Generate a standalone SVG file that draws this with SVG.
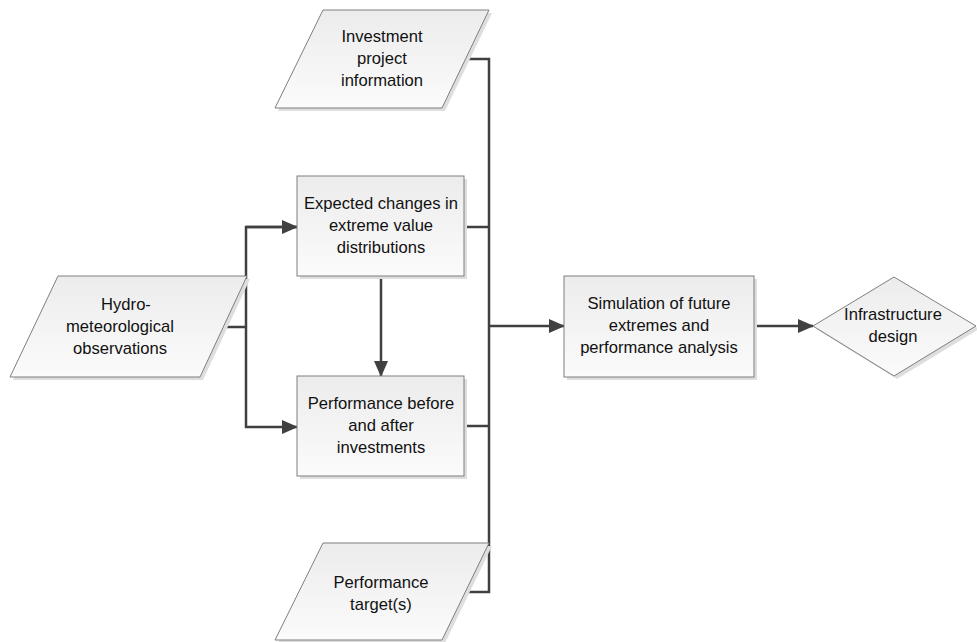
<svg xmlns="http://www.w3.org/2000/svg" width="977" height="642" viewBox="0 0 977 642">
<defs>
<linearGradient id="g" x1="0" y1="0" x2="0" y2="1">
<stop offset="0" stop-color="#ececec"/>
<stop offset="1" stop-color="#fbfbfb"/>
</linearGradient>
<marker id="ah" markerWidth="16" markerHeight="14" refX="15" refY="7" orient="auto" markerUnits="userSpaceOnUse">
<path d="M0,0 L16,7 L0,14 Z" fill="#404040"/>
</marker>
<style>
.s{fill:url(#g);stroke:#7f7f7f;stroke-width:1}
.sh{fill:#dedede;stroke:none}
.c{fill:none;stroke:#404040;stroke-width:2.5}
text{font-family:"Liberation Sans",Arial,sans-serif;font-size:16.6px;fill:#111111;text-anchor:middle}
</style>
</defs>
<rect width="977" height="642" fill="#ffffff"/>
<g id="connectors">
<polyline class="c" points="466,59 489,59 489,592 466,592"/>
<line class="c" x1="464" y1="227" x2="489" y2="227"/>
<line class="c" x1="464" y1="426" x2="489" y2="426"/>
<line class="c" x1="489" y1="326" x2="564" y2="326" marker-end="url(#ah)"/>
<line class="c" x1="224" y1="327" x2="246" y2="327"/>
<polyline class="c" points="297,227 246,227 246,427 297,427" marker-end="url(#ah)"/>
<line class="c" x1="246" y1="227" x2="297" y2="227" marker-end="url(#ah)"/>
<line class="c" x1="381" y1="276" x2="381" y2="376" marker-end="url(#ah)"/>
<line class="c" x1="754" y1="326" x2="813" y2="326" marker-end="url(#ah)"/>
</g>
<g id="investment">
<polygon class="sh" points="326,13 492,13 445,111 278,111"/>
<polygon class="s" points="323,10 489,10 442,108 275,108"/>
<text x="382" y="42">Investment</text>
<text x="382" y="64">project</text>
<text x="382" y="86">information</text>
</g>
<g id="hydro">
<polygon class="sh" points="61,279 250,279 203,380 13,380"/>
<polygon class="s" points="58,276 247,276 200,377 10,377"/>
<text x="126" y="310">Hydro-</text>
<text x="120" y="332">meteorological</text>
<text x="120" y="354">observations</text>
</g>
<g id="expected">
<rect class="sh" x="300" y="179" width="167" height="100"/>
<rect class="s" x="297" y="176" width="167" height="100"/>
<text x="381" y="209">Expected changes in</text>
<text x="381" y="231">extreme value</text>
<text x="381" y="253">distributions</text>
</g>
<g id="performance">
<rect class="sh" x="300" y="379" width="167" height="100"/>
<rect class="s" x="297" y="376" width="167" height="100"/>
<text x="381" y="409">Performance before</text>
<text x="381" y="431">and after</text>
<text x="381" y="453">investments</text>
</g>
<g id="simulation">
<rect class="sh" x="567" y="279" width="190" height="101"/>
<rect class="s" x="564" y="276" width="190" height="101"/>
<text x="659" y="309">Simulation of future</text>
<text x="659" y="331">extremes and</text>
<text x="659" y="353">performance analysis</text>
</g>
<g id="infrastructure">
<polygon class="sh" points="897,280 979,329 897,379 816,329"/>
<polygon class="s" points="894,277 976,326 894,376 813,326"/>
<text x="893" y="320">Infrastructure</text>
<text x="893" y="342">design</text>
</g>
<g id="target">
<polygon class="sh" points="326,546 492,546 445,643 278,643"/>
<polygon class="s" points="323,543 489,543 442,640 275,640"/>
<text x="381" y="588">Performance</text>
<text x="381" y="610">target(s)</text>
</g>
</svg>
